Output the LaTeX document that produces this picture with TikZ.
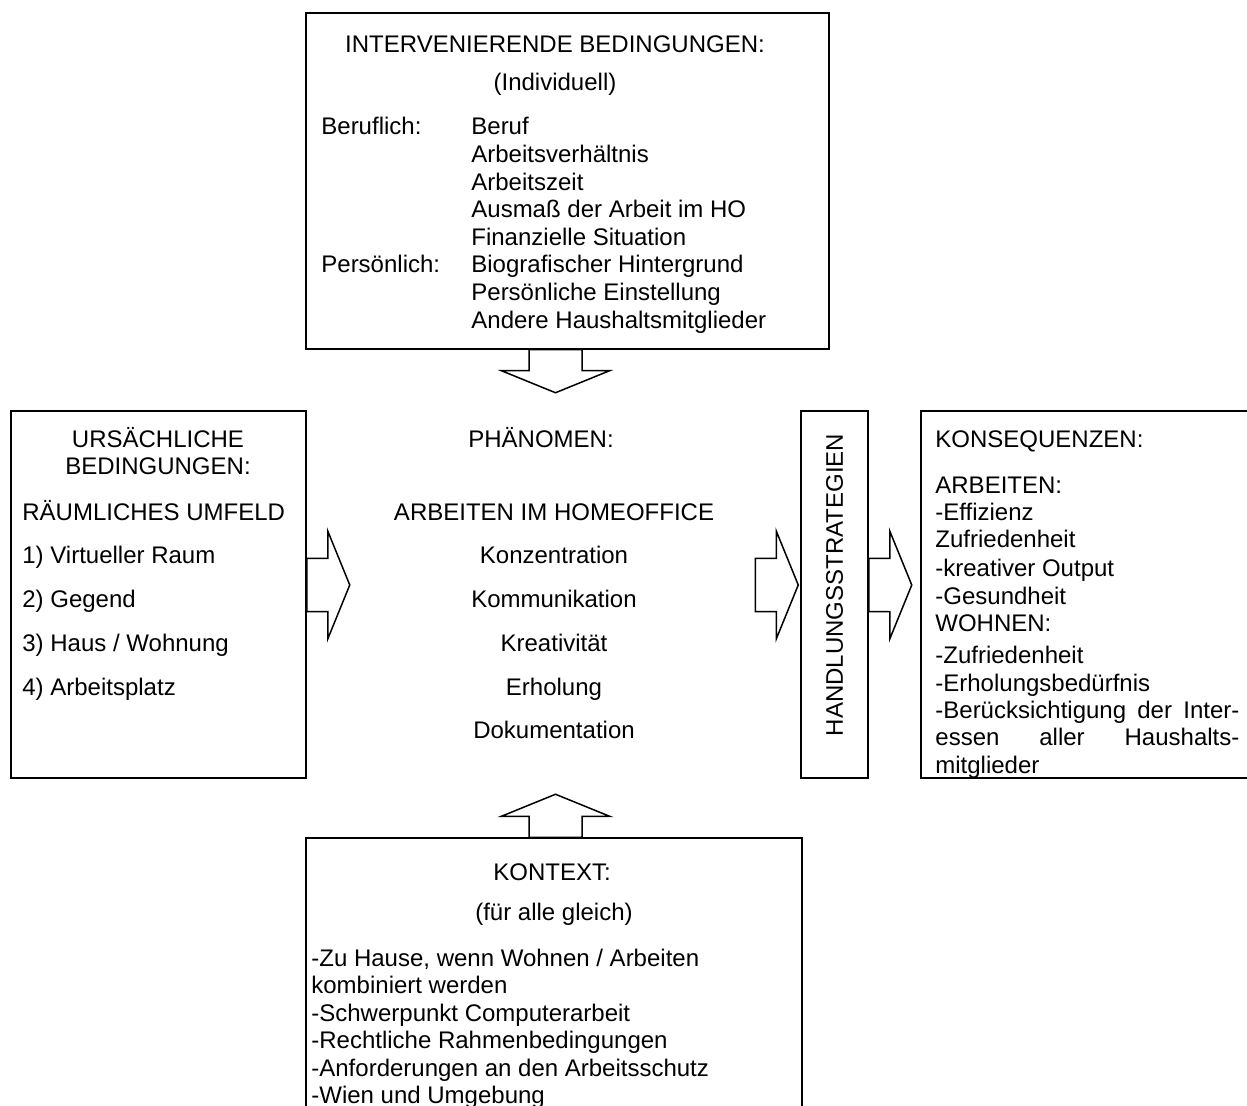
\documentclass[tikz,border=0pt]{standalone}
\usepackage{fontspec}
\setmainfont{Liberation Sans}
\usetikzlibrary{fit,calc}

\tikzset{
  box/.style={draw, line width=0.75pt, inner sep=0pt},
  txt/.style={font=\fontsize{12}{13.8}\selectfont, inner sep=0pt},
  blockarr/.pic={\draw[line width=0.75pt, fill=white] (0,-26.5) -- (21,-26.5) -- (21,-54) -- (43,0) -- (21,54) -- (21,26.5) -- (0,26.5) -- cycle;}
}

\begin{document}
\begin{tikzpicture}[x=0.5pt, y=-0.5pt]
\useasboundingbox (0,0) rectangle (1247,1106);
\clip (0,0) rectangle (1247,1106);
% frames
\node[box, fit={(306,13) (829,349)}] (interv) {};
\node[box, fit={(11,411) (306,778)}] (ursache) {};
\node[box, fit={(801,411) (868,778)}] (handl) {};
\node[box, fit={(921,411) (1265,778)}] (konseq) {};
\node[box, fit={(306,838) (802,1130)}] (kontext) {};
\coordinate (axis) at (555.5,585);

% block arrows
\pic[rotate=-90] at (interv.south -| axis) {blockarr};
\pic[rotate=90] at (kontext.north -| axis) {blockarr};
\pic at (ursache.east |- axis) {blockarr};
\pic at ($(handl.west |- axis)+(-45,0)$) {blockarr};
\pic at (handl.east |- axis) {blockarr};

% intervenierende Bedingungen
\node[txt, anchor=base] (ititle) at (555,53) {INTERVENIERENDE BEDINGUNGEN:};
\node[txt, anchor=base] (isub) at (555,91) {(Individuell)};
\node[txt, anchor=base west] (beruflich) at (321,135) {Beruflich:};
\node[txt, anchor=base west] (persoenlich) at (321,273) {Persönlich:};
\foreach \t [count=\i from 0] in {Beruf, Arbeitsverhältnis, Arbeitszeit, Ausmaß der Arbeit im HO, Finanzielle Situation, Biografischer Hintergrund, Persönliche Einstellung, Andere Haushaltsmitglieder}
  \node[txt, anchor=base west] (i\i) at (471,135+27.6*\i) {\t};

% ursaechliche Bedingungen
\node[txt, anchor=base] (utitle) at (158,448) {URSÄCHLICHE};
\node[txt, anchor=base] (utitleb) at (158,475) {BEDINGUNGEN:};
\node[txt, anchor=base west] (usub) at (22,521) {RÄUMLICHES UMFELD};
\foreach \t [count=\i from 0] in {1) Virtueller Raum, 2) Gegend, 3) Haus / Wohnung, 4) Arbeitsplatz}
  \node[txt, anchor=base west] (u\i) at (22,564+43.7*\i) {\t};

% Phaenomen
\node[txt, anchor=base] (ptitle) at (541,448) {PHÄNOMEN:};
\node[txt, anchor=base] (psub) at (554,521) {ARBEITEN IM HOMEOFFICE};
\foreach \t [count=\i from 0] in {Konzentration, Kommunikation, Kreativität, Erholung, Dokumentation}
  \node[txt, anchor=base] (p\i) at (554,564+43.7*\i) {\t};

% Handlungsstrategien
\node[txt, rotate=90] (htxt) at (handl.center |- axis) {HANDLUNGSSTRATEGIEN};

% Konsequenzen
\node[txt, anchor=base west] (ktitle) at (935,448) {KONSEQUENZEN:};
\foreach \t/\y [count=\i from 0] in {ARBEITEN:/494, -Effizienz/521, Zufriedenheit/548, -kreativer Output/576, -Gesundheit/604, WOHNEN:/631, -Zufriedenheit/663, -Erholungsbedürfnis/691, mitglieder/773}
  \node[txt, anchor=base west] (k\i) at (935,\y) {\t};
\node[txt, anchor=base west, text width=152pt] (kj1) at (935,718) {-Berücksichtigung\hfill der\hfill Inter-};
\node[txt, anchor=base west, text width=152pt] (kj2) at (935,745) {essen\hfill aller\hfill Haushalts-};

% Kontext
\node[txt, anchor=base] (ctitle) at (552,880) {KONTEXT:};
\node[txt, anchor=base] (csub) at (554,920) {(für alle gleich)};
\foreach \t [count=\i from 0] in {-Zu Hause{,} wenn Wohnen / Arbeiten, kombiniert werden, -Schwerpunkt Computerarbeit, -Rechtliche Rahmenbedingungen, -Anforderungen an den Arbeitsschutz, -Wien und Umgebung}
  \node[txt, anchor=base west] (c\i) at (311,966+27.5*\i) {\t};
\end{tikzpicture}
\end{document}
